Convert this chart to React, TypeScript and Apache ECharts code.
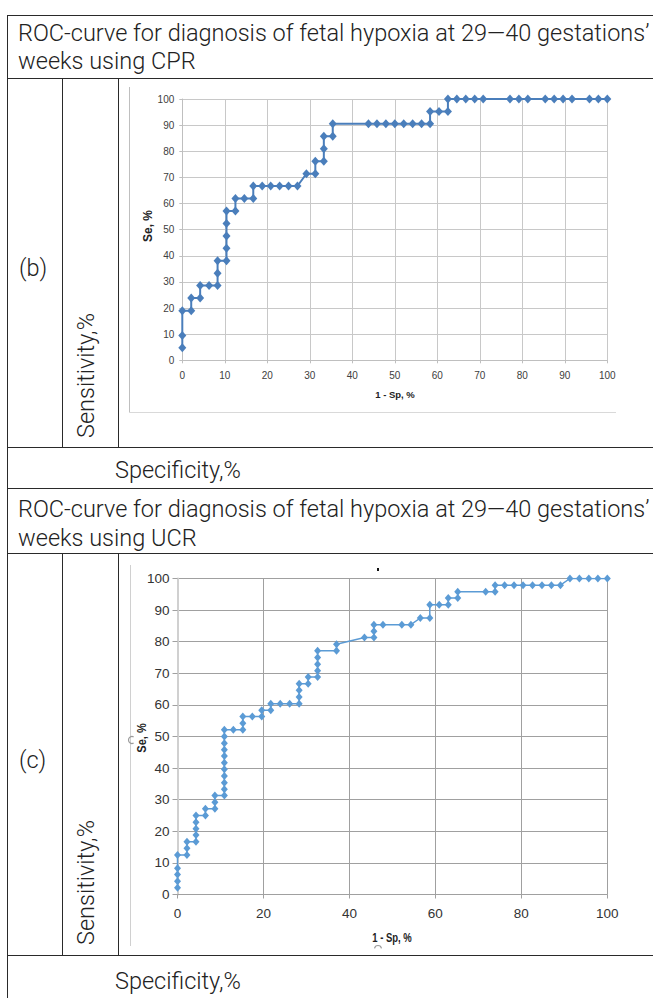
import React, { useEffect, useRef } from "react";
import * as echarts from "echarts";

// CPR ROC curve: 1 - Sp (%) and Se (%)
const cprX = [0, 0, 0, 2.1, 2.1, 4.2, 4.2, 6.3, 8.3, 8.3, 8.3, 10.4, 10.4, 10.4, 10.4, 10.4, 12.5, 12.5, 14.6, 16.7, 16.7, 18.8, 20.8, 22.9, 25.0, 27.1, 29.2, 31.3, 31.3, 33.3, 33.3, 33.3, 35.4, 35.4, 43.8, 45.8, 47.9, 50.0, 52.1, 54.2, 56.3, 58.3, 58.3, 60.4, 62.5, 62.5, 64.6, 66.7, 68.8, 70.8, 77.1, 79.2, 81.3, 85.4, 87.5, 89.6, 91.7, 95.8, 97.9, 100];
const cprY = [4.8, 9.5, 19.0, 19.0, 23.8, 23.8, 28.6, 28.6, 28.6, 33.3, 38.1, 38.1, 42.9, 47.6, 52.4, 57.1, 57.1, 61.9, 61.9, 61.9, 66.7, 66.7, 66.7, 66.7, 66.7, 66.7, 71.4, 71.4, 76.2, 76.2, 81.0, 85.7, 85.7, 90.5, 90.5, 90.5, 90.5, 90.5, 90.5, 90.5, 90.5, 90.5, 95.2, 95.2, 95.2, 100, 100, 100, 100, 100, 100, 100, 100, 100, 100, 100, 100, 100, 100, 100];

// UCR ROC curve
const ucrX = [0, 0, 0, 0, 0, 2.2, 2.2, 2.2, 4.3, 4.3, 4.3, 4.3, 4.3, 6.5, 6.5, 8.7, 8.7, 8.7, 10.9, 10.9, 10.9, 10.9, 10.9, 10.9, 10.9, 10.9, 10.9, 10.9, 10.9, 13.0, 15.2, 15.2, 15.2, 17.4, 19.6, 19.6, 21.7, 21.7, 23.9, 26.1, 28.3, 28.3, 28.3, 28.3, 30.4, 30.4, 32.6, 32.6, 32.6, 32.6, 32.6, 37.0, 37.0, 43.5, 45.7, 45.7, 45.7, 47.8, 52.2, 54.3, 56.5, 58.7, 58.7, 60.9, 63.0, 63.0, 65.2, 65.2, 71.7, 73.9, 73.9, 76.1, 78.3, 80.4, 82.6, 84.8, 87.0, 89.1, 91.3, 93.5, 95.7, 97.8, 100];
const ucrY = [2.1, 4.2, 6.3, 8.3, 12.5, 12.5, 14.6, 16.7, 16.7, 18.8, 20.8, 22.9, 25.0, 25.0, 27.1, 27.1, 29.2, 31.3, 31.3, 33.3, 35.4, 37.5, 39.6, 41.7, 43.8, 45.8, 47.9, 50.0, 52.1, 52.1, 52.1, 54.2, 56.3, 56.3, 56.3, 58.3, 58.3, 60.4, 60.4, 60.4, 60.4, 62.5, 64.6, 66.7, 66.7, 68.8, 68.8, 70.8, 72.9, 75.0, 77.1, 77.1, 79.2, 81.3, 81.3, 83.3, 85.4, 85.4, 85.4, 85.4, 87.5, 87.5, 91.7, 91.7, 91.7, 93.8, 93.8, 95.8, 95.8, 95.8, 97.9, 97.9, 97.9, 97.9, 97.9, 97.9, 97.9, 97.9, 100, 100, 100, 100, 100];

const titleCPR = ["ROC-curve for diagnosis of fetal hypoxia at 29\u201440 gestations\u2019", "weeks using CPR"];
const titleUCR = ["ROC-curve for diagnosis of fetal hypoxia at 29\u201440 gestations\u2019", "weeks using UCR"];
const panelLabels = ["(b)", "(c)"];
const sensLabel = "Sensitivity,%";
const specLabel = "Specificity,%";
const seName = "Se, %";
const spName = "1 - Sp, %";

const TABLE_FONT = '300 23.5px Roboto, "Noto Sans", sans-serif';
const LINE = "#2a2a2a";

function hline(y: number, x1: number, x2: number, color = LINE, w = 1) {
  return { type: "line", silent: true, shape: { x1, y1: y, x2, y2: y }, style: { stroke: color, lineWidth: w } };
}
function vline(x: number, y1: number, y2: number, color = LINE, w = 1) {
  return { type: "line", silent: true, shape: { x1: x, y1, x2: x, y2 }, style: { stroke: color, lineWidth: w } };
}
function txt(text: string, x: number, y: number, font: string, extra: any = {}, style: any = {}) {
  return {
    type: "text",
    silent: true,
    x,
    y,
    ...extra,
    style: {
      text,
      font,
      fill: "#222",
      textAlign: "left",
      align: "left",
      textVerticalAlign: "middle",
      verticalAlign: "middle",
      ...style,
    },
  };
}

export default function App() {
  const ref = useRef<HTMLDivElement>(null);
  useEffect(() => {
    if (!ref.current) return;
    const chart = echarts.init(ref.current, undefined, { renderer: "svg" });

    const cprData = cprX.map((x, i) => [x, cprY[i]]);
    const ucrData = ucrX.map((x, i) => [x, ucrY[i]]);

    const bFont = '"Liberation Sans Narrow", "Liberation Sans", Arial, sans-serif';
    const wFont = '"Liberation Sans", Arial, sans-serif';

    const graphic: any[] = [
      // table borders
      hline(15.5, 7, 653),
      vline(7.5, 15, 998),
      hline(78.5, 7, 653),
      hline(447.5, 7, 653),
      hline(488.5, 7, 653),
      hline(553.5, 7, 653),
      hline(955.5, 7, 653),
      vline(62.5, 78.5, 447.5),
      vline(118.5, 78.5, 447.5),
      vline(62.5, 553.5, 955.5),
      vline(118.5, 553.5, 955.5),
      // header texts
      txt(titleCPR[0], 18, 33, TABLE_FONT),
      txt(titleCPR[1], 18, 61, TABLE_FONT),
      txt(titleUCR[0], 18, 509, TABLE_FONT),
      txt(titleUCR[1], 18, 538, TABLE_FONT),
      txt(panelLabels[0], 19, 268, TABLE_FONT),
      txt(panelLabels[1], 19, 760, TABLE_FONT),
      txt(sensLabel, 86, 438, TABLE_FONT, { rotation: Math.PI / 2 }),
      txt(sensLabel, 86, 945, TABLE_FONT, { rotation: Math.PI / 2 }),
      txt(specLabel, 115, 470, TABLE_FONT),
      txt(specLabel, 115, 981, TABLE_FONT),
      // chart frames
      vline(129.5, 87, 412, "#bfbfbf"),
      hline(412.5, 129, 616, "#d9d9d9"),
      vline(130.5, 565, 946, "#d0d0d0"),
      // axis names
      txt(seName, 148, 226, "bold 12px " + wFont, { rotation: Math.PI / 2 }, { textAlign: "center", align: "center" }),
      txt(spName, 395, 394, "bold 9.5px " + wFont, {}, { textAlign: "center", align: "center" }),
      txt(seName, 141, 738, "bold 12.5px " + wFont, { rotation: Math.PI / 2, scaleX: 0.88 }, { textAlign: "center", align: "center" }),
      txt(spName, 392, 937, "bold 12.5px " + wFont, { scaleX: 0.76 }, { textAlign: "center", align: "center" }),
      { type: "rect", silent: true, shape: { x: 377, y: 568, width: 2, height: 3 }, style: { fill: "#111" } },
      { type: "arc", silent: true, shape: { cx: 132, cy: 740, r: 3.5, startAngle: Math.PI * 0.35, endAngle: Math.PI * 1.65 }, style: { stroke: "#9a9a9a", lineWidth: 1.2, fill: "none" } },
      { type: "arc", silent: true, shape: { cx: 378, cy: 949, r: 3.5, startAngle: Math.PI * 1.05, endAngle: Math.PI * 1.95 }, style: { stroke: "#9a9a9a", lineWidth: 1.2, fill: "none" } },
    ];

    chart.setOption({
      animation: false,
      backgroundColor: "#fff",
      grid: [
        { left: 182.3, top: 99, width: 425, height: 261.3, containLabel: false },
        { left: 177.5, top: 578.5, width: 429.8, height: 316, containLabel: false },
      ],
      xAxis: [
        {
          gridIndex: 0, type: "value", min: 0, max: 100, interval: 10,
          axisLine: { show: true, lineStyle: { color: "#bfbfbf", width: 1 } },
          axisTick: { show: true, length: 3, lineStyle: { color: "#bfbfbf" } },
          splitLine: { show: true, lineStyle: { color: "#c8c8c8", width: 1 } },
          axisLabel: { fontSize: 10, fontFamily: bFont, color: "#404040", margin: 10 },
        },
        {
          gridIndex: 1, type: "value", min: 0, max: 100, interval: 20,
          axisLine: { show: true, lineStyle: { color: "#a0a0a0", width: 1 } },
          axisTick: { show: true, length: 4, lineStyle: { color: "#a0a0a0" } },
          splitLine: { show: true, lineStyle: { color: "#a0a0a0", width: 1 } },
          axisLabel: { fontSize: 13.5, fontFamily: bFont, color: "#333", margin: 12 },
        },
      ],
      yAxis: [
        {
          gridIndex: 0, type: "value", min: 0, max: 100, interval: 10,
          axisLine: { show: true, lineStyle: { color: "#bfbfbf", width: 1 } },
          axisTick: { show: true, length: 3, lineStyle: { color: "#bfbfbf" } },
          splitLine: { show: true, lineStyle: { color: "#c8c8c8", width: 1 } },
          axisLabel: { fontSize: 10, fontFamily: bFont, color: "#404040", margin: 8 },
        },
        {
          gridIndex: 1, type: "value", min: 0, max: 100, interval: 10,
          axisLine: { show: true, lineStyle: { color: "#d0d0d0", width: 2 } },
          axisTick: { show: true, length: 5, lineStyle: { color: "#a0a0a0" } },
          splitLine: { show: true, lineStyle: { color: "#a0a0a0", width: 1 } },
          axisLabel: { fontSize: 13.5, fontFamily: bFont, color: "#333", margin: 8 },
        },
      ],
      series: [
        {
          type: "line", xAxisIndex: 0, yAxisIndex: 0, data: cprData,
          symbol: "diamond", symbolSize: [8, 9], showAllSymbol: true,
          lineStyle: { color: "#4A7EBB", width: 2 },
          itemStyle: { color: "#4A7EBB" },
        },
        {
          type: "line", xAxisIndex: 1, yAxisIndex: 1, data: ucrData,
          symbol: "diamond", symbolSize: [7, 8], showAllSymbol: true,
          lineStyle: { color: "#5B9BD5", width: 1.5 },
          itemStyle: { color: "#5B9BD5" },
        },
      ],
      graphic: { elements: graphic },
    });
    return () => chart.dispose();
  }, []);

  return (
    <div
      ref={ref}
      style={{ position: "fixed", left: 0, top: 0, width: 653, height: 998, background: "#fff" }}
    />
  );
}
